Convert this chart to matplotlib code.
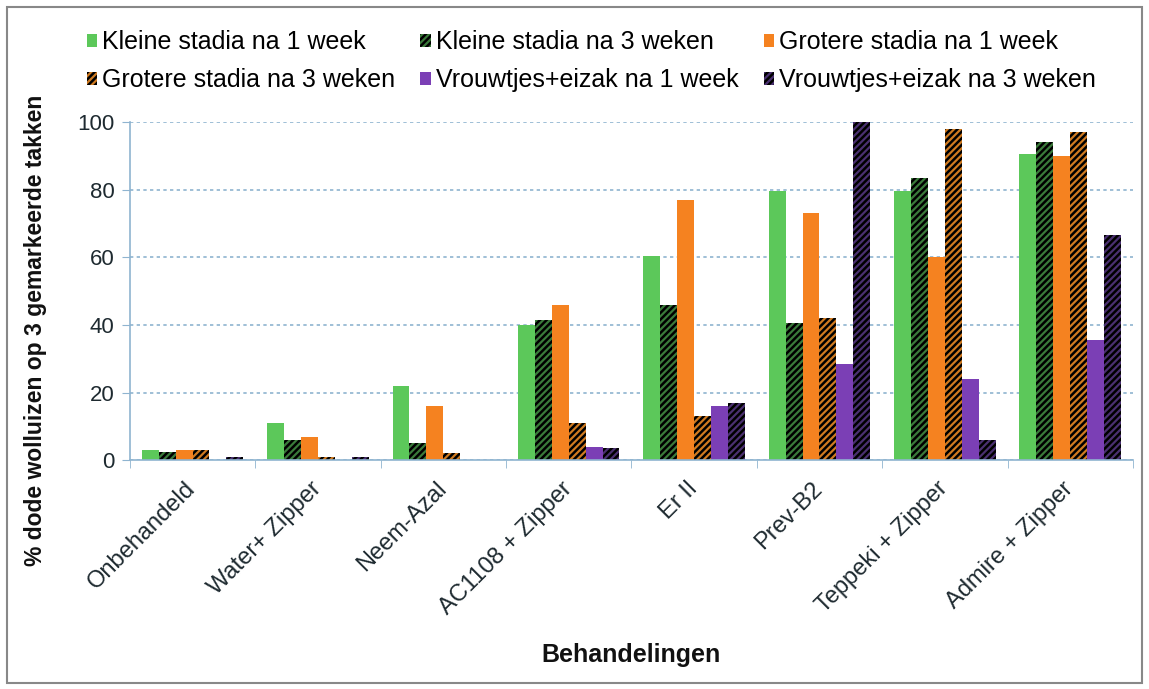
import numpy as np
import matplotlib.pyplot as plt

plt.rcParams['font.family'] = ['Liberation Sans', 'DejaVu Sans']
plt.rcParams['hatch.linewidth'] = 1.8

# treatments
behandelingen = ['Onbehandeld', 'Water+ Zipper', 'Neem-Azal', 'AC1108 + Zipper',
                 'Er II', 'Prev-B2', 'Teppeki + Zipper', 'Admire + Zipper']

kleine_1w = [3, 11, 22, 40, 60.5, 79.5, 79.5, 90.5]
kleine_3w = [2.5, 6, 5, 41.5, 46, 40.5, 83.5, 94]
grotere_1w = [3, 7, 16, 46, 77, 73, 60, 90]
grotere_3w = [3, 1, 2, 11, 13, 42, 98, 97]
vrouw_1w = [0, 0, 0, 4, 16, 28.5, 24, 35.5]
vrouw_3w = [1, 1, 0, 3.5, 17, 100, 6, 66.5]

series = [
    ('Kleine stadia na 1 week', kleine_1w, '#5cc85a', None),
    ('Kleine stadia na 3 weken', kleine_3w, '#3a7a3a', '/////'),
    ('Grotere stadia na 1 week', grotere_1w, '#f58220', None),
    ('Grotere stadia na 3 weken', grotere_3w, '#d07a20', '/////'),
    ('Vrouwtjes+eizak na 1 week', vrouw_1w, '#7b3fb5', None),
    ('Vrouwtjes+eizak na 3 weken', vrouw_3w, '#4a3070', '/////'),
]

fig = plt.figure(figsize=(11.49, 6.89), dpi=100)
ax = fig.add_axes([0.113, 0.332, 0.873, 0.491])

x = np.arange(len(behandelingen))
w = 0.135
handles = []
for i, (name, vals, col, hatch) in enumerate(series):
    pos = x + (i - 2.5) * w
    if hatch:
        b = ax.bar(pos, vals, w, color=col, edgecolor='black', linewidth=0,
                   hatch=hatch, label=name)
    else:
        b = ax.bar(pos, vals, w, color=col, linewidth=0, label=name)
    handles.append(b)

ax.set_xlim(-0.5, len(behandelingen) - 0.5)
ax.set_ylim(0, 100)
ax.set_yticks(range(0, 101, 20))
ax.yaxis.grid(True, linestyle=(0, (2, 2)), color='#8fb4d0', linewidth=1.2)
ax.set_axisbelow(True)

ax.set_xticks(x)
ax.set_xticklabels(behandelingen, rotation=45, ha='right', va='center',
                   rotation_mode='anchor', fontsize=17, color='#1e2a30')
ax.set_xticks(np.arange(-0.5, len(behandelingen)), minor=True)
ax.tick_params(axis='x', which='major', length=0, pad=18)
ax.tick_params(axis='x', which='minor', length=6, color='#8fb4d0', direction='out')
ax.tick_params(axis='y', length=6, color='#8fb4d0', labelsize=16,
               labelcolor='#1e2a30', pad=5)

for s in ['top', 'right']:
    ax.spines[s].set_visible(False)
for s in ['left', 'bottom']:
    ax.spines[s].set_color('#8fb4d0')
    ax.spines[s].set_linewidth(1.2)

ax.set_ylabel('% dode wolluizen op 3 gemarkeerde takken', fontsize=16.5,
              fontweight='bold', color='#111111')
ax.yaxis.set_label_coords(-0.083, 0.385)
ax.set_xlabel('Behandelingen', fontsize=18, fontweight='bold', color='#111111')
ax.xaxis.set_label_coords(0.5, -0.541)

order = [0, 3, 1, 4, 2, 5]
fig.legend([handles[k] for k in order], [series[k][0] for k in order],
           loc='upper left', bbox_to_anchor=(0.058, 0.985), ncol=3, frameon=False,
           fontsize=18, handlelength=0.42, handleheight=0.42, handletextpad=0.2,
           columnspacing=1.0, labelspacing=0.55, borderpad=0.3)

fig.patches.append(plt.Rectangle((0.006, 0.008), 0.988, 0.982, transform=fig.transFigure,
                                 fill=False, edgecolor='#888888', linewidth=1.5))

plt.savefig('out.png', dpi=100)
